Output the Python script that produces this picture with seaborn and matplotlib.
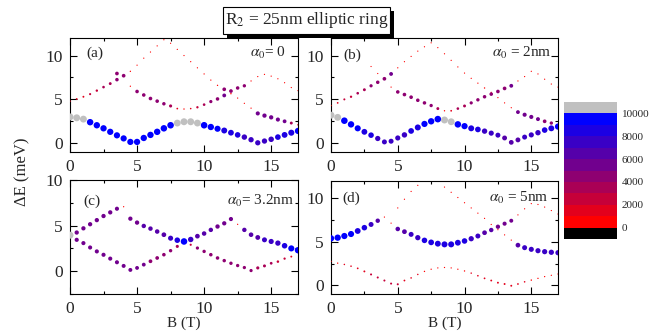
import numpy as np
import pandas as pd
import matplotlib
matplotlib.use("Agg")
import matplotlib.pyplot as plt
import matplotlib.colors as mcolors
import matplotlib.patches as mpatches
from matplotlib.ticker import MultipleLocator
import seaborn as sns

# ---------------- data ----------------
B_GRID = [0.0, 0.5, 1.0, 1.5, 2.0, 2.5, 3.0, 3.5, 4.0, 4.5, 5.0, 5.5, 6.0, 6.5,
          7.0, 7.5, 8.0, 8.5, 9.0, 9.5, 10.0, 10.5, 11.0, 11.5, 12.0, 12.5,
          13.0, 13.5, 14.0, 14.5, 15.0, 15.5, 16.0, 16.5, 17.0]

# panel (a)  alpha0 = 0
a_low_E = [3.0, 2.9, 2.75, 2.4, 2.05, 1.7, 1.3, 0.9, 0.55, 0.15, 0.15, 0.6, 0.95, 1.3,
           1.7, 2.05, 2.3, 2.45, 2.45, 2.3, 2.05, 1.85, 1.65, 1.45, 1.2, 0.95, 0.7,
           0.4, 0.05, 0.25, 0.45, 0.7, 0.95, 1.2, 1.4]
a_low_W = [10600, 10500, 10400, 9600, 9500, 9400, 9300, 9200, 9200, 9200, 9300, 9400,
           9500, 9600, 9700, 9800, 10300, 10500, 10500, 10300, 9800, 9400, 9000, 8700,
           8400, 8100, 7800, 7600, 7500, 7600, 7900, 8200, 8500, 8900, 9300]
a_l1_E = [4.8, 5.05, 5.3, 5.6, 6.0, 6.4, 6.8, 7.25, 7.7, 8.2, 8.9, 9.7, 10.4, 11.1,
          11.8, 11.4, 10.7, 10.0, 9.3, 8.6, 7.9, 7.2, 6.6, 6.15, 5.65, 5.15, 4.55,
          4.0, 3.4, 3.15, 2.95, 2.7, 2.5, 2.3, 2.1]
a_l1_W = [1000, 1500, 1800, 2200, 2600, 3000, 3400, 4500, 4800, 700, 400, 400, 400,
          400, 400, 400, 400, 400, 400, 400, 500, 500, 700, 4800, 900, 500, 400, 500,
          5500, 5800, 5800, 5500, 5000, 3500, 1200]
a_l2_B = [3.5, 4.5, 5.0, 5.5, 6.0, 6.5, 7.0, 7.5, 8.0, 8.5, 9.0, 9.5, 10.0, 10.5,
          11.0, 11.5, 12.0, 12.5, 13.0, 13.5, 14.0, 14.5, 15.0, 15.5, 16.0, 16.5, 17.0]
a_l2_E = [7.95, 6.5, 5.9, 5.5, 5.1, 4.8, 4.5, 4.25, 3.95, 3.9, 3.95, 4.1, 4.4, 4.75,
          5.05, 5.45, 5.95, 6.3, 6.55, 7.1, 7.6, 7.85, 7.65, 7.35, 6.9, 6.35, 6.0]
a_l2_W = [4800, 600, 4600, 4600, 4700, 4600, 4400, 3800, 1500, 800, 1200, 2500, 3000,
          4000, 4500, 5000, 4800, 4500, 4200, 500, 400, 400, 400, 400, 400, 400, 400]

# panel (b)  alpha0 = 2nm
b_low_E = [3.2, 2.95, 2.57, 2.15, 1.7, 1.3, 0.92, 0.54, 0.15, 0.23, 0.6, 0.95, 1.4,
           1.8, 2.2, 2.5, 2.75, 2.65, 2.45, 2.15, 1.95, 1.7, 1.57, 1.38, 1.15, 0.92,
           0.6, 0.1, 0.38, 0.7, 0.95, 1.2, 1.5, 1.7, 1.9]
b_low_W = [10600, 10400, 9800, 9500, 9000, 8500, 8000, 7500, 7000, 7000, 7300, 7800,
           8300, 8800, 9200, 9500, 9900, 10500, 10300, 9700, 9200, 8700, 8200, 7700,
           7300, 7000, 6800, 6600, 6800, 7000, 7300, 7700, 8100, 8600, 9200]
b_l1_E = [4.3, 4.6, 5.0, 5.3, 5.7, 6.1, 6.55, 6.95, 7.35, 7.9, 8.6, 9.3, 9.9, 10.5,
          11.0, 11.45, 10.9, 10.2, 9.45, 8.7, 8.0, 7.4, 6.85, 6.3, 5.8, 5.2, 4.6,
          4.05, 3.55, 3.25, 3.0, 2.75, 2.5, 2.3, 2.1]
b_l1_W = [800, 1500, 2000, 2500, 3000, 3500, 4000, 4500, 4800, 5000, 500, 400, 400,
          400, 400, 400, 400, 400, 400, 400, 400, 400, 500, 800, 500, 500, 400, 400,
          5000, 5500, 5500, 5200, 4800, 4200, 2000]
b_l2_B = [3.0, 3.5, 4.5, 5.0, 5.5, 6.0, 6.5, 7.0, 7.5, 8.0, 8.5, 9.0, 9.5, 10.0,
          10.5, 11.0, 11.5, 12.0, 12.5, 13.0, 13.5, 14.0, 14.5, 15.0, 15.5, 16.0,
          16.5, 17.0]
b_l2_E = [8.75, 7.95, 6.4, 5.85, 5.55, 5.25, 4.9, 4.6, 4.3, 3.95, 3.7, 3.7, 3.95,
          4.25, 4.6, 4.95, 5.3, 5.6, 5.9, 6.25, 6.55, 7.1, 7.6, 8.2, 7.9, 7.3, 6.75, 6.4]
b_l2_W = [300, 300, 400, 4600, 4700, 4700, 4600, 4500, 4200, 3500, 800, 1500, 3000,
          3500, 4000, 4300, 4500, 4600, 4700, 4800, 5000, 400, 400, 400, 400, 400,
          400, 400]

# panel (c)  alpha0 = 3.2nm
c_up_E = [3.95, 4.24, 4.7, 5.15, 5.6, 6.05, 6.45, 6.85, 7.07, 5.76, 5.33, 4.96, 4.67,
          4.35, 4.0, 3.62, 3.4, 3.26, 3.48, 3.84, 4.13, 4.53, 4.9, 5.25, 5.72, 5.14,
          4.53, 4.0, 3.7, 3.44, 3.26, 3.08, 2.79, 2.5, 2.3]
c_up_W = [10600, 5800, 5800, 5800, 5800, 5800, 5800, 5500, 500, 5800, 5900, 6000,
          6100, 6200, 6500, 7200, 8000, 9800, 7800, 6500, 6200, 6000, 5900, 5800,
          5600, 500, 6000, 6300, 6700, 7000, 7300, 7600, 8000, 9000, 9500]
c_low_B = [0.5, 1.0, 1.5, 2.0, 2.5, 3.0, 3.5, 4.0, 4.5, 5.0, 5.5, 6.0, 6.5, 7.0, 7.5,
           8.0, 9.0, 9.5, 10.0, 10.5, 11.0, 11.5, 12.0, 12.5, 13.0, 13.5, 14.0, 14.5,
           15.0, 15.5, 16.0, 16.5]
c_low_E = [3.44, 3.08, 2.6, 2.17, 1.8, 1.38, 0.98, 0.58, 0.14, 0.36, 0.72, 1.09, 1.45,
           1.81, 2.25, 2.72, 2.9, 2.54, 2.17, 1.81, 1.45, 1.16, 0.87, 0.62, 0.4, 0.07,
           0.36, 0.58, 0.87, 1.05, 1.38, 1.6]
c_low_W = [5600, 5500, 5500, 5500, 5500, 5500, 5400, 5300, 5200, 5000, 5000, 4900,
           4800, 4600, 4300, 3800, 2200, 4000, 4300, 4500, 4500, 4400, 4300, 4200,
           4100, 4000, 3900, 3600, 3200, 2800, 2400, 1800]

# panel (d)  alpha0 = 5nm
d_big_B = [0.0, 0.5, 1.0, 1.5, 2.0, 2.5, 3.0, 3.5, 5.0, 5.5, 6.0, 6.5, 7.0, 7.5, 8.0,
           8.5, 9.0, 9.5, 10.0, 10.5, 11.0, 11.5, 12.0, 12.5, 13.0, 13.5, 14.0, 14.5,
           15.0, 15.5, 16.0, 16.5, 17.0]
d_big_E = [5.4, 5.48, 5.67, 5.9, 6.25, 6.63, 7.0, 7.43, 6.48, 6.17, 5.86, 5.48, 5.17,
           4.94, 4.79, 4.71, 4.71, 4.9, 5.1, 5.36, 5.67, 6.05, 6.36, 6.74, 7.09, 7.43,
           4.62, 4.33, 4.14, 3.98, 3.87, 3.8, 3.75]
d_big_W = [9500, 9400, 9200, 9000, 8500, 8000, 7000, 6000, 6200, 6600, 7000, 7500,
           8000, 8300, 8600, 8800, 8800, 8500, 8000, 7500, 7000, 6500, 6000, 5800,
           5500, 5200, 6500, 7000, 7200, 7300, 7400, 7500, 7500]
d_t1_B = [4.0, 4.5]
d_t1_E = [7.85, 7.15]
d_t1_W = [400, 400]
d_t2_B = [5.0, 5.5, 6.0, 6.5, 8.5, 9.0, 9.5, 10.0, 10.5, 11.0, 11.5, 12.0, 12.5,
          13.0, 13.5]
d_t2_E = [8.9, 9.9, 10.8, 11.5, 11.3, 10.7, 10.1, 9.5, 8.9, 8.3, 7.7, 7.0, 6.4, 5.8, 5.2]
d_t2_W = [400, 400, 400, 400, 400, 400, 400, 400, 400, 400, 400, 400, 400, 400, 400]
d_t3_B = [14.0, 14.5, 15.0, 15.5, 16.0, 16.5, 17.0]
d_t3_E = [8.1, 8.8, 9.4, 9.3, 9.0, 8.6, 8.2]
d_t3_W = [400, 400, 400, 400, 400, 400, 400]
d_low_E = [2.75, 2.55, 2.4, 2.2, 1.95, 1.6, 1.25, 0.9, 0.55, 0.2, 0.12, 0.55, 0.85,
           1.25, 1.6, 1.85, 2.0, 2.05, 2.0, 1.85, 1.65, 1.4, 1.1, 0.8, 0.55, 0.3, 0.15,
           -0.05, 0.15, 0.4, 0.6, 0.8, 1.0, 1.15, 1.3]
d_low_W = [600, 800, 1000, 1200, 1500, 1800, 2000, 2000, 2000, 2000, 2000, 1600, 1200,
           1000, 800, 600, 500, 500, 500, 600, 800, 1000, 1300, 1500, 1700, 1800, 1800,
           1800, 1500, 1200, 900, 700, 600, 500, 500]

PANEL_LABELS = ["(a)", "(b)", "(c)", "(d)"]
ALPHA_LABELS = [r"$\alpha_0$= 0", r"$\alpha_0$ = 2nm", r"$\alpha_0$= 3.2nm", r"$\alpha_0$ = 5nm"]
CB_TICKS = [0, 2000, 4000, 6000, 8000, 10000]
CB_BOUNDS = [-1000, 0, 1000, 2000, 3000, 4000, 5000, 6000, 7000, 8000, 9000, 10000, 11000]
TITLE = r"R$_2$ = 25nm elliptic ring"


def branch(B, E, W):
    return pd.DataFrame({"B": B, "E": E, "W": W})


panels = [
    pd.concat([branch(B_GRID, a_l1_E, a_l1_W), branch(a_l2_B, a_l2_E, a_l2_W),
               branch(B_GRID, a_low_E, a_low_W)], ignore_index=True),
    pd.concat([branch(B_GRID, b_l1_E, b_l1_W), branch(b_l2_B, b_l2_E, b_l2_W),
               branch(B_GRID, b_low_E, b_low_W)], ignore_index=True),
    pd.concat([branch(c_low_B, c_low_E, c_low_W), branch(B_GRID, c_up_E, c_up_W)],
              ignore_index=True),
    pd.concat([branch(B_GRID, d_low_E, d_low_W), branch(d_t1_B, d_t1_E, d_t1_W),
               branch(d_t2_B, d_t2_E, d_t2_W), branch(d_t3_B, d_t3_E, d_t3_W),
               branch(d_big_B, d_big_E, d_big_W)], ignore_index=True),
]

# ---------------- style ----------------
sns.set_style("ticks")
plt.rcParams["font.family"] = ["Liberation Serif", "DejaVu Serif"]
plt.rcParams["mathtext.fontset"] = "stix"
plt.rcParams["axes.linewidth"] = 0.8

# colour scale: black (under), red -> blue (10 steps), grey (over)
red = np.array([1.0, 0.0, 0.0])
blue = np.array([0.0, 0.0, 1.0])
steps = [tuple(red * (1 - i / 9) + blue * (i / 9)) for i in range(10)]
cmap = mcolors.ListedColormap([(0, 0, 0)] + steps + [(0.753, 0.753, 0.753)])
norm = mcolors.BoundaryNorm(CB_BOUNDS, ncolors=12)
size_norm = mcolors.PowerNorm(gamma=1.7, vmin=0, vmax=11000)

fig = plt.figure(figsize=(6.61, 3.35), dpi=100)
W, H = 661.0, 335.0
rects = [
    (70, 38, 228, 114),
    (331, 38, 227, 114),
    (70, 180, 228, 114),
    (331, 181, 227, 113),
]
ylims = [(-1, 12), (-1, 12), (-2.5, 10), (-1, 12)]
label_pos = [(0.07, 0.865), (0.055, 0.845), (0.057, 0.815), (0.05, 0.85)]
alpha_pos = [(0.947, 0.865), (0.97, 0.865), (0.985, 0.815), (0.96, 0.85)]

axes = []
for i, (x0, y0, w, h) in enumerate(rects):
    ax = fig.add_axes([x0 / W, 1 - (y0 + h) / H, w / W, h / H])
    axes.append(ax)
    sns.scatterplot(data=panels[i], x="B", y="E", hue="W", size="W",
                    palette=cmap, hue_norm=norm, sizes=(0.7, 27), size_norm=size_norm,
                    linewidth=0, edgecolor="none", legend=False, ax=ax, zorder=3)
    ax.set_xlim(0, 17)
    ax.set_ylim(*ylims[i])
    ax.xaxis.set_major_locator(MultipleLocator(5))
    ax.xaxis.set_minor_locator(MultipleLocator(2.5))
    ax.yaxis.set_major_locator(MultipleLocator(5))
    ax.yaxis.set_minor_locator(MultipleLocator(2.5))
    ax.tick_params(which="both", direction="in", top=True, right=True,
                   width=0.8, color="black", labelsize=12.5, pad=5)
    ax.tick_params(which="major", length=4.8)
    ax.tick_params(which="minor", length=2.4)
    ax.set_xlabel("")
    ax.set_ylabel("")
    for sp in ax.spines.values():
        sp.set_color("black")
        sp.set_linewidth(0.8)
    ax.text(*label_pos[i], PANEL_LABELS[i], transform=ax.transAxes,
            ha="left", va="center", fontsize=11)
    ax.text(*alpha_pos[i], ALPHA_LABELS[i], transform=ax.transAxes,
            ha="right", va="center", fontsize=11)

# axis titles
fig.text(184 / W, 1 - 323 / H, "B (T)", ha="center", va="center", fontsize=11)
fig.text(444.5 / W, 1 - 323 / H, "B (T)", ha="center", va="center", fontsize=11)
fig.text(22 / W, 1 - 172 / H, "ΔE (meV)", rotation=90, ha="center", va="center",
         fontsize=12)

# title box with drop shadow
fig.patches.append(mpatches.Rectangle((227 / W, 1 - 38 / H), 167 / W, 27 / H,
                                      transform=fig.transFigure, facecolor="black",
                                      edgecolor="none", zorder=5))
fig.patches.append(mpatches.Rectangle((223 / W, 1 - 34 / H), 167 / W, 27 / H,
                                      transform=fig.transFigure, facecolor="white",
                                      edgecolor="black", linewidth=0.8, zorder=6))
fig.text(306.5 / W, 1 - 20.5 / H, TITLE, ha="center", va="center", fontsize=12.5,
         zorder=7)

# colour bar
cax = fig.add_axes([564 / W, 1 - 239 / H, 53 / W, 137 / H])
sm = matplotlib.cm.ScalarMappable(norm=norm, cmap=cmap)
cb = fig.colorbar(sm, cax=cax, ticks=CB_TICKS)
cb.outline.set_visible(False)
cax.minorticks_off()
cax.tick_params(which="both", length=0, width=0, labelsize=8, pad=3.5)

fig.savefig("out.png", dpi=100)
